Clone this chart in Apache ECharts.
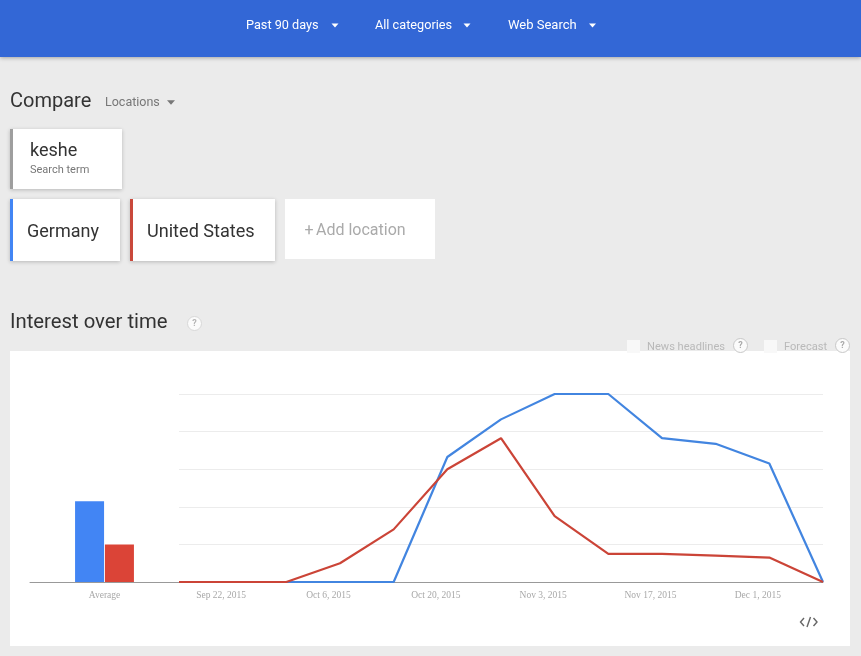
<!DOCTYPE html>
<html><head><meta charset="utf-8">
<style>html,body{margin:0;padding:0;background:#ebebeb}#c{width:861px;height:656px}</style>
<script src="https://cdn.jsdelivr.net/npm/echarts@6/dist/echarts.min.js"></script>
</head><body><div id="c"></div>
<script>
const weeks = ['2015-09-16T12:00','2015-09-23T12:00','2015-09-30T12:00','2015-10-07T12:00','2015-10-14T12:00','2015-10-21T12:00','2015-10-28T12:00','2015-11-04T12:00','2015-11-11T12:00','2015-11-18T12:00','2015-11-25T12:00','2015-12-02T12:00','2015-12-09T12:00'];
const germany = [0,0,0,0,0,66.5,86.5,100,100,76.5,73.5,63,0];
const unitedStates = [0,0,0,10,28,60,76.5,35,15,15,14,13,0];
const averageLabel = ['Average'];
const germanyAverage = [43];
const unitedStatesAverage = [20];
const tickDates = ['2015-09-22T00:00','2015-10-06T00:00','2015-10-20T00:00','2015-11-03T00:00','2015-11-17T00:00','2015-12-01T00:00'];
const tickLabels = ['Sep 22, 2015','Oct 6, 2015','Oct 20, 2015','Nov 3, 2015','Nov 17, 2015','Dec 1, 2015'];

const ts = s => new Date(s).getTime();
const UI = 'Roboto, sans-serif';
const labelStyle = {color:'#a8a8a8',fontFamily:'"Liberation Serif", serif',fontSize:9.5,margin:8};
const axisLine = {show:true,onZero:false,lineStyle:{color:'#999',width:1}};

function txt(x,y,text,size,color,extra){
  return {type:'text',x,y,silent:true,z:5,style:Object.assign({text,fontSize:size,fontFamily:UI,fill:color,verticalAlign:'middle',align:'left'},extra||{})};
}
function rect(x,y,w,h,fill,extra){
  return {type:'rect',silent:true,z:(extra&&extra.z!==undefined)?extra.z:2,shape:{x,y,width:w,height:h},style:Object.assign({fill},extra&&extra.style||{})};
}
function tri(cx,cy,w,h,fill){
  return {type:'polygon',silent:true,z:5,shape:{points:[[cx-w/2,cy-h/2],[cx+w/2,cy-h/2],[cx,cy+h/2]]},style:{fill}};
}
function help(cx,cy,r,stroke,color){
  return [
    {type:'circle',silent:true,z:5,shape:{cx,cy,r},style:{fill:'#fbfbfb',stroke,lineWidth:1}},
    txt(cx,cy+0.5,'?',9,color,{align:'center',fontWeight:'bold'})
  ];
}
const shadow = {shadowBlur:4,shadowColor:'rgba(0,0,0,0.22)',shadowOffsetY:1};
const elements = [
  rect(0,0,861,57,'#3367d6',{z:3,style:{shadowBlur:4,shadowColor:'rgba(0,0,0,0.3)',shadowOffsetY:1}}),
  txt(246,25.5,'Past 90 days',12.7,'#fff'), tri(335,25.5,7,4,'#fff'),
  txt(375,25.5,'All categories',12.7,'#fff'), tri(467,25.5,7,4,'#fff'),
  txt(508,25.5,'Web Search',13,'#fff'), tri(592.5,25.5,7,4,'#fff'),
  txt(10,101.5,'Compare',20,'#333'),
  txt(105,102.5,'Locations',12.5,'#777'), tri(171,102.5,8,4.5,'#777'),
  rect(10,129,112,60,'#fff',{style:shadow}), rect(10,129,3,60,'#9e9e9e',{z:3}),
  txt(30,151,'keshe',18,'#333'), txt(30,170,'Search term',11,'#777'),
  rect(10,199,110,62,'#fff',{style:shadow}), rect(10,199,3,62,'#4285f4',{z:3}),
  txt(27,232,'Germany',18,'#333'),
  rect(130,199,145,62,'#fff',{style:shadow}), rect(130,199,3,62,'#c9483b',{z:3}),
  txt(147,232,'United States',18.1,'#333'),
  rect(285,199,150,60,'#fff'),
  txt(304.5,230.5,'+',16,'#aaa'), txt(316,230.5,'Add location',16,'#aaa'),
  txt(10,323,'Interest over time',20.3,'#333'),
  ...help(194.5,323.5,7,'#d8d8d8','#b5b5b5'),
  rect(10,351,840,295,'#fff',{z:-1}),
  rect(627,340,13,13,'#f8f8f8',{z:4}),
  txt(647,347,'News headlines',11.1,'#b9b9b9'),
  ...help(740.5,345.5,7,'#c8c8c8','#aaa'),
  rect(764,340,13,13,'#f8f8f8',{z:4}),
  txt(784,347,'Forecast',11.1,'#b9b9b9'),
  ...help(842.5,345.5,7,'#c8c8c8','#aaa'),
  {type:'polyline',silent:true,z:5,shape:{points:[[804,618],[800.5,622],[804,626]]},style:{stroke:'#666',lineWidth:1.4,fill:null}},
  {type:'polyline',silent:true,z:5,shape:{points:[[813.5,618],[817,622],[813.5,626]]},style:{stroke:'#666',lineWidth:1.4,fill:null}},
  {type:'polyline',silent:true,z:5,shape:{points:[[810.5,617],[807,627]]},style:{stroke:'#666',lineWidth:1.4,fill:null}}
];

const tickTimes = tickDates.map(ts);
const chart = echarts.init(document.getElementById('c'),null,{renderer:'canvas'});
chart.setOption({
  animation:false,
  backgroundColor:'#ebebeb',
  tooltip:{show:false},
  graphic:{elements},
  grid:[
    {left:30,top:394,width:149,height:188},
    {left:179,top:394,width:644,height:188}
  ],
  xAxis:[
    {gridIndex:0,type:'category',data:averageLabel,axisLine,axisTick:{show:false},
     axisLabel:Object.assign({},labelStyle)},
    {gridIndex:1,type:'value',min:ts(weeks[0]),max:ts(weeks[weeks.length-1]),axisLine,axisTick:{show:false},
     splitLine:{show:false},
     axisLabel:Object.assign({},labelStyle,{
       customValues:tickTimes,
       formatter:v=>{const i=tickTimes.indexOf(+v);return i>=0?tickLabels[i]:'';}
     })}
  ],
  yAxis:[
    {gridIndex:0,type:'value',min:0,max:100,interval:20,axisLine:{show:false},axisTick:{show:false},axisLabel:{show:false},splitLine:{show:false}},
    {gridIndex:1,type:'value',min:0,max:100,interval:20,axisLine:{show:false},axisTick:{show:false},axisLabel:{show:false},
     splitLine:{show:true,lineStyle:{color:'#ececec',width:1}}}
  ],
  series:[
    {name:'Germany',type:'bar',xAxisIndex:0,yAxisIndex:0,data:germanyAverage,barWidth:29,barGap:'3%',itemStyle:{color:'#4285f4'},silent:true},
    {name:'United States',type:'bar',xAxisIndex:0,yAxisIndex:0,data:unitedStatesAverage,barWidth:29,itemStyle:{color:'#db4437'},silent:true},
    {name:'Germany',type:'line',xAxisIndex:1,yAxisIndex:1,data:weeks.map((w,i)=>[ts(w),germany[i]]),showSymbol:false,symbol:'none',lineStyle:{color:'#4285e0',width:2.2},silent:true,clip:false},
    {name:'United States',type:'line',xAxisIndex:1,yAxisIndex:1,data:weeks.map((w,i)=>[ts(w),unitedStates[i]]),showSymbol:false,symbol:'none',lineStyle:{color:'#cb4437',width:2.2},silent:true,clip:false}
  ]
});
</script></body></html>
